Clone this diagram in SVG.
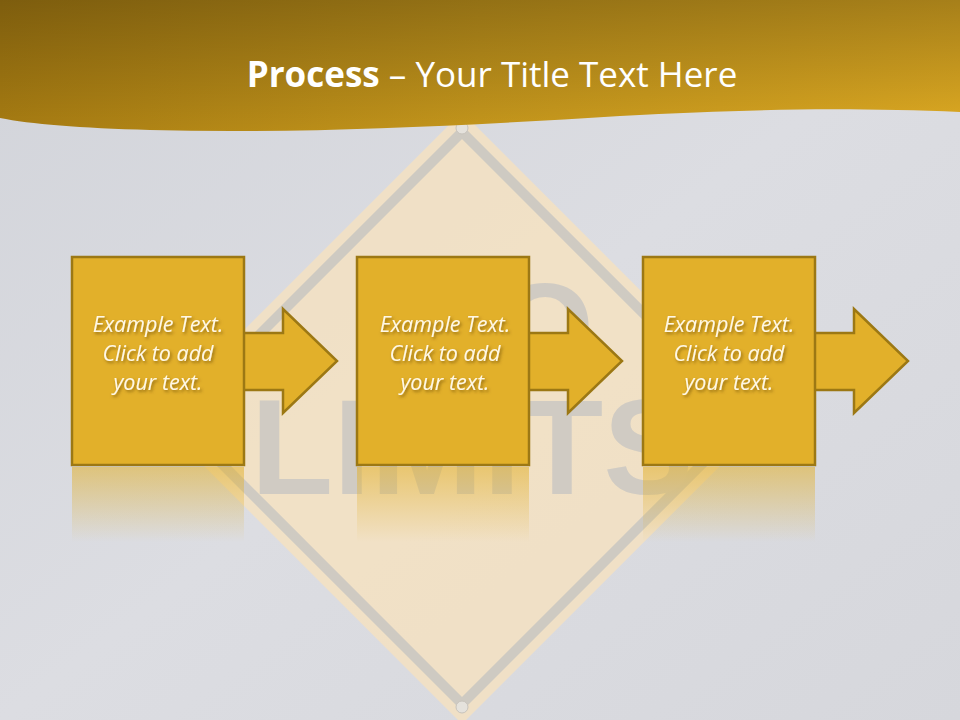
<svg xmlns="http://www.w3.org/2000/svg" width="960" height="720" viewBox="0 0 960 720">
<defs>
<linearGradient id="bg" x1="0" y1="0" x2="1" y2="1"><stop offset="0" stop-color="#d2d4da"/><stop offset="0.5" stop-color="#dcdde2"/><stop offset="1" stop-color="#d6d7dc"/></linearGradient>
<linearGradient id="band" x1="0" y1="0" x2="1" y2="0"><stop offset="0" stop-color="#a77c12"/><stop offset="0.5" stop-color="#c4961c"/><stop offset="1" stop-color="#deaa22"/></linearGradient>
<linearGradient id="bandv" x1="0" y1="0" x2="0" y2="1"><stop offset="0" stop-color="#000" stop-opacity="0.25"/><stop offset="1" stop-color="#000" stop-opacity="0"/></linearGradient>
<linearGradient id="refl" x1="0" y1="0" x2="0" y2="1"><stop offset="0" stop-color="#e2b02a" stop-opacity="0.55"/><stop offset="1" stop-color="#e2b02a" stop-opacity="0"/></linearGradient>
<filter id="ts" x="-20%" y="-20%" width="140%" height="160%"><feDropShadow dx="1.5" dy="2" stdDeviation="1.5" flood-color="#5a3c00" flood-opacity="0.6"/></filter>
</defs>
<style>
.box{fill:#e2b02a;stroke:#9c7814;stroke-width:2.5}
.t{font-family:"Open Sans","Liberation Sans",sans-serif;font-style:italic;font-size:21.5px;fill:#fff8e6;text-anchor:middle}
</style>
<rect width="960" height="720" fill="url(#bg)"/>
<g id="sign" opacity="0.85">
<polygon points="462,112 768,418 462,724 156,418" fill="#f5e2c2"/>
<polygon points="462,132 748,418 462,704 176,418" fill="none" stroke="#cdc8bd" stroke-width="10"/>
<circle cx="462" cy="128" r="6" fill="#e8e4dc" stroke="#c5c0b6"/>
<circle cx="462" cy="707" r="6" fill="#e8e4dc" stroke="#c5c0b6"/>
<text x="472" y="494" font-family="Liberation Sans,sans-serif" font-weight="bold" font-size="135" fill="#cfc9be" text-anchor="middle">LIMITS</text>
<text x="500" y="370" font-family="Liberation Sans,sans-serif" font-weight="bold" font-size="125" fill="#cfc9be" text-anchor="middle">NO</text>
</g>
<path d="M0,0H960V112C860,108 760,108 620,116C460,126 300,134 150,130C80,128 30,124 0,118Z" fill="url(#band)"/>
<path d="M0,0H960V112C860,108 760,108 620,116C460,126 300,134 150,130C80,128 30,124 0,118Z" fill="url(#bandv)"/>
<text x="492" y="87" font-family="Open Sans,Liberation Sans,sans-serif" font-size="35" fill="#fff" text-anchor="middle"><tspan font-weight="bold">Process</tspan> – Your Title Text Here</text>
<g id="reflections">
<rect x="72" y="467" width="172" height="75" fill="url(#refl)"/>
<rect x="357" y="467" width="172" height="75" fill="url(#refl)"/>
<rect x="643" y="467" width="172" height="75" fill="url(#refl)"/>
</g>
<g id="connectors">
<path class="box" d="M244,333H283V309L337,361L283,413V390H244"/>
<path class="box" d="M529,333H568V309L622,361L568,413V390H529"/>
<path class="box" d="M815,333H854V309L908,361L854,413V390H815"/>
</g>
<g id="node1"><rect class="box" x="72" y="257" width="172" height="208"/>
<g filter="url(#ts)" class="t"><text x="158" y="332">Example Text.</text><text x="158" y="361">Click  to add</text><text x="158" y="390">your text.</text></g></g>
<g id="node2"><rect class="box" x="357" y="257" width="172" height="208"/>
<g filter="url(#ts)" class="t"><text x="445" y="332">Example Text.</text><text x="445" y="361">Click  to add</text><text x="445" y="390">your text.</text></g></g>
<g id="node3"><rect class="box" x="643" y="257" width="172" height="208"/>
<g filter="url(#ts)" class="t"><text x="729" y="332">Example Text.</text><text x="729" y="361">Click  to add</text><text x="729" y="390">your text.</text></g></g>
</svg>
